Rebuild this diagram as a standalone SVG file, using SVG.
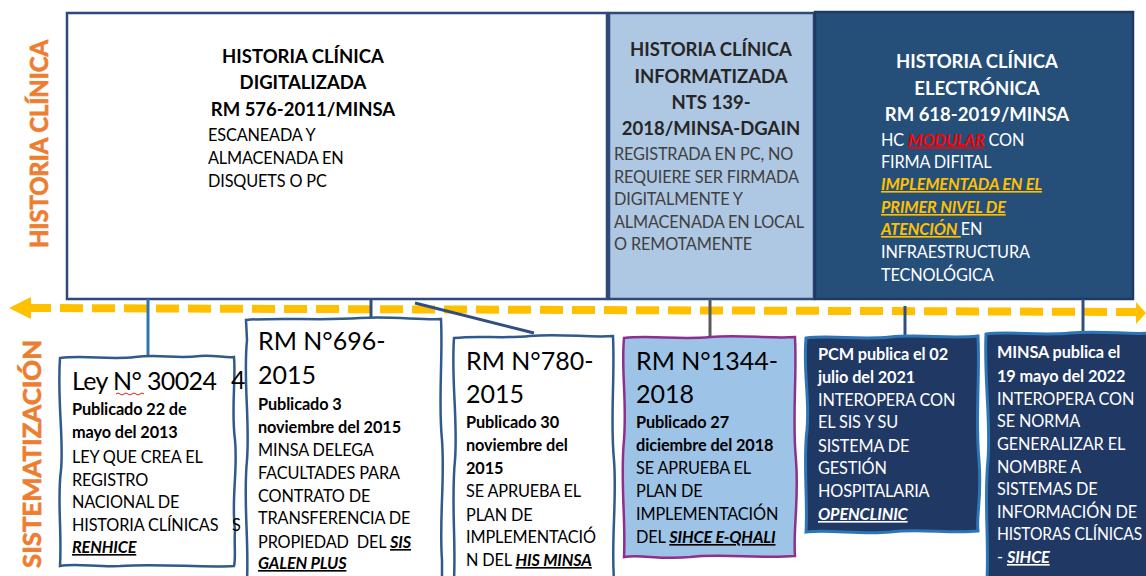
<svg xmlns="http://www.w3.org/2000/svg" width="1146" height="576" viewBox="0 0 1146 576">
<defs>
<style>
text{font-family:Lato,"Noto Sans","Liberation Sans",sans-serif}
.hd{font-weight:700;font-size:18.5px;text-anchor:middle}
.bd{font-size:16.3px;letter-spacing:-0.15px}
.bb{font-size:16.3px;font-weight:700;letter-spacing:-0.1px}
.big{font-size:25px}
.ul{font-weight:700;font-style:italic;text-decoration:underline}
.side{font-weight:700;font-size:25px;fill:#ED7D31;stroke:#ED7D31;stroke-width:0.7;text-anchor:middle}
.wb{fill:#fff;stroke:#2F5A8A;stroke-width:2.5}
.conn{stroke:#2F4F7F;stroke-width:3;fill:none}
</style>
</defs>
<rect width="1146" height="576" fill="#fff"/>

<text class="side" transform="translate(48,144) rotate(-90)" textLength="208" lengthAdjust="spacingAndGlyphs">HISTORIA CLÍNICA</text>
<text class="side" transform="translate(41,454) rotate(-90)" textLength="228" lengthAdjust="spacingAndGlyphs">SISTEMATIZACIÓN</text>

<g id="hc-digitalizada">
<rect x="67" y="13" width="540" height="286" fill="#fff" stroke="#2E4A7A" stroke-width="2.5"/>
<text class="hd" x="303" y="63">HISTORIA CLÍNICA</text>
<text class="hd" x="303" y="89">DIGITALIZADA</text>
<text class="hd" x="303" y="116">RM 576-2011/MINSA</text>
<text class="bd" x="208" y="141">ESCANEADA Y</text>
<text class="bd" x="208" y="164">ALMACENADA EN</text>
<text class="bd" x="208" y="187">DISQUETS O PC</text>
</g>

<g id="hc-informatizada">
<rect x="609" y="13" width="205" height="286" fill="#AEC7E3" stroke="#2E4A7A" stroke-width="2.5"/>
<g fill="#262626">
<text class="hd" x="711" y="56">HISTORIA CLÍNICA</text>
<text class="hd" x="711" y="83">INFORMATIZADA</text>
<text class="hd" x="711" y="109">NTS 139-</text>
<text class="hd" x="711" y="135">2018/MINSA-DGAIN</text>
</g>
<g fill="#404040">
<text class="bd" x="614" y="160">REGISTRADA EN PC, NO</text>
<text class="bd" x="614" y="183">REQUIERE SER FIRMADA</text>
<text class="bd" x="614" y="205">DIGITALMENTE Y</text>
<text class="bd" x="614" y="228">ALMACENADA EN LOCAL</text>
<text class="bd" x="614" y="250">O REMOTAMENTE</text>
</g>
</g>

<g id="hc-electronica">
<rect x="815" y="12" width="318" height="287" fill="#254E79" stroke="#1F3864" stroke-width="2.5"/>
<g fill="#fff">
<text class="hd" x="977" y="68">HISTORIA CLÍNICA</text>
<text class="hd" x="977" y="95">ELECTRÓNICA</text>
<text class="hd" x="977" y="121">RM 618-2019/MINSA</text>
<text class="bd" x="881" y="146">HC <tspan class="ul" fill="#FF0000">MODULAR</tspan> CON</text>
<text class="bd" x="881" y="168">FIRMA DIFITAL</text>
<text class="bd ul" x="881" y="190" fill="#FFC000">IMPLEMENTADA EN EL</text>
<text class="bd ul" x="881" y="213" fill="#FFC000">PRIMER NIVEL DE</text>
<text class="bd" x="881" y="235"><tspan class="ul" fill="#FFC000">ATENCIÓN </tspan>EN</text>
<text class="bd" x="881" y="258">INFRAESTRUCTURA</text>
<text class="bd" x="881" y="281">TECNOLÓGICA</text>
</g>
</g>

<g id="timeline">
<line x1="28" y1="308" x2="1138" y2="312" stroke="#FFC000" stroke-width="8" stroke-dasharray="23 9"/>
<polygon points="9,308 31,297 31,319" fill="#FFC000"/>
<polygon points="1146,313 1136,302 1136,324" fill="#FFC000"/>
</g>

<g id="connectors">
<line x1="148" y1="299" x2="148" y2="357" stroke="#2E75B6" stroke-width="3"/>
<line class="conn" x1="371" y1="299" x2="371" y2="319"/>
<line class="conn" x1="415" y1="303" x2="534" y2="333"/>
<line x1="710" y1="299" x2="710" y2="338" stroke="#595959" stroke-width="3"/>
<line class="conn" x1="905" y1="306" x2="905" y2="337"/>
<line class="conn" x1="1083" y1="299" x2="1083" y2="333"/>
</g>

<g id="ley-30024">
<path class="wb" d="M60,358 C85,355 110,360 135,357 C160,354 175,359 200,356 C215,355 225,358 234,357 C236,380 231,410 235,440 C238,470 231,500 235,530 C234,545 236,558 234,566 C200,568 160,563 120,566 C95,567 75,563 60,566 C62,530 57,500 61,470 C64,440 57,400 60,358 Z"/>
<text class="big" x="72" y="390" textLength="145">Ley N° 30024</text>
<path d="M116,394 q2,-2 4,0 t4,0 t4,0 t4,0 t4,0 t4,0 t4,0" fill="none" stroke="#E02020" stroke-width="1"/>
<text class="big" x="231" y="389">4</text>
<text class="bd" x="232" y="531">S</text>
<text class="bb" x="72" y="415">Publicado 22 de</text>
<text class="bb" x="72" y="438">mayo del 2013</text>
<text class="bd" x="72" y="463">LEY QUE CREA EL</text>
<text class="bd" x="72" y="486">REGISTRO</text>
<text class="bd" x="72" y="508">NACIONAL DE</text>
<text class="bd" x="72" y="531">HISTORIA CLÍNICAS</text>
<text class="bd ul" x="72" y="553">RENHICE</text>
</g>

<g id="rm-696-2015">
<path class="wb" d="M246,320 C280,317 320,321 360,318 C390,316 420,320 441,319 C443,360 438,400 442,440 C445,480 439,520 442,560 L442,580 L247,580 C249,540 243,500 247,460 C250,420 243,380 247,340 Z"/>
<text class="big" x="258" y="350">RM N°696-</text>
<text class="big" x="258" y="384">2015</text>
<text class="bb" x="258" y="410">Publicado 3</text>
<text class="bb" x="258" y="433">noviembre del 2015</text>
<text class="bd" x="258" y="456">MINSA DELEGA</text>
<text class="bd" x="258" y="479">FACULTADES PARA</text>
<text class="bd" x="258" y="502">CONTRATO DE</text>
<text class="bd" x="258" y="524">TRANSFERENCIA DE</text>
<text class="bd" x="258" y="548" style="white-space:pre">PROPIEDAD  DEL <tspan class="ul">SIS</tspan></text>
<text class="bd ul" x="258" y="569">GALEN PLUS</text>
</g>

<g id="rm-780-2015">
<path class="wb" d="M454,338 C480,335 500,339 530,336 C560,333 590,338 613,336 C615,380 610,420 614,460 C617,500 611,540 614,580 L454,580 C456,540 451,500 455,460 C458,420 451,380 454,338 Z"/>
<text class="big" x="466" y="370">RM N°780-</text>
<text class="big" x="466" y="403">2015</text>
<text class="bb" x="466" y="428">Publicado 30</text>
<text class="bb" x="466" y="451">noviembre del</text>
<text class="bb" x="466" y="474">2015</text>
<text class="bd" x="466" y="497">SE APRUEBA EL</text>
<text class="bd" x="466" y="521">PLAN DE</text>
<text class="bd" x="466" y="543">IMPLEMENTACIÓ</text>
<text class="bd" x="466" y="566">N DEL <tspan class="ul">HIS MINSA</tspan></text>
</g>

<g id="rm-1344-2018">
<path d="M624,338 C650,335 680,340 710,337 C740,334 770,339 795,337 C797,380 792,420 796,460 C799,500 793,530 795,556 C760,559 720,553 690,557 C660,560 640,554 624,557 C626,520 620,480 624,440 C627,400 621,370 624,338 Z" fill="#9DC3E6" stroke="#8E2F8E" stroke-width="2.5"/>
<text class="big" x="636" y="370">RM N°1344-</text>
<text class="big" x="636" y="403">2018</text>
<text class="bb" x="636" y="428">Publicado 27</text>
<text class="bb" x="636" y="451">diciembre del 2018</text>
<text class="bd" x="636" y="474">SE APRUEBA EL</text>
<text class="bd" x="636" y="497">PLAN DE</text>
<text class="bd" x="636" y="520">IMPLEMENTACIÓN</text>
<text class="bd" x="636" y="543">DEL <tspan class="ul">SIHCE E-QHALI</tspan></text>
</g>

<g id="pcm-2021">
<path d="M806,338 C830,335 860,340 890,337 C920,334 950,339 978,336 C980,380 975,420 979,460 C982,500 976,515 978,531 C950,534 920,528 890,532 C860,535 830,529 806,532 C808,500 803,460 807,430 C810,400 803,370 806,338 Z" fill="#203864" stroke="#2E75B6" stroke-width="3"/>
<g fill="#fff">
<text class="bb" x="818" y="360">PCM publica el 02</text>
<text class="bb" x="818" y="383">julio del 2021</text>
<text class="bd" x="818" y="406">INTEROPERA CON</text>
<text class="bd" x="818" y="428">EL SIS Y SU</text>
<text class="bd" x="818" y="452">SISTEMA DE</text>
<text class="bd" x="818" y="474">GESTIÓN</text>
<text class="bd" x="818" y="497">HOSPITALARIA</text>
<text class="bd ul" x="818" y="520">OPENCLINIC</text>
</g>
</g>

<g id="minsa-2022">
<path d="M986,334 C1010,331 1040,336 1070,333 C1100,330 1130,335 1150,333 L1150,580 L987,580 C989,540 984,500 988,460 C991,420 984,380 986,334 Z" fill="#203864" stroke="#2E75B6" stroke-width="3"/>
<g fill="#fff">
<text class="bb" x="997" y="358">MINSA publica el</text>
<text class="bb" x="997" y="382">19 mayo del 2022</text>
<text class="bd" x="997" y="405">INTEROPERA CON</text>
<text class="bd" x="997" y="427">SE NORMA</text>
<text class="bd" x="997" y="450">GENERALIZAR EL</text>
<text class="bd" x="997" y="473">NOMBRE A</text>
<text class="bd" x="997" y="495">SISTEMAS DE</text>
<text class="bd" x="997" y="518">INFORMACIÓN DE</text>
<text class="bd" x="997" y="540" textLength="145" lengthAdjust="spacingAndGlyphs">HISTORAS CLÍNICAS</text>
<text class="bd" x="997" y="563">- <tspan class="ul">SIHCE</tspan></text>
</g>
</g>
</svg>
